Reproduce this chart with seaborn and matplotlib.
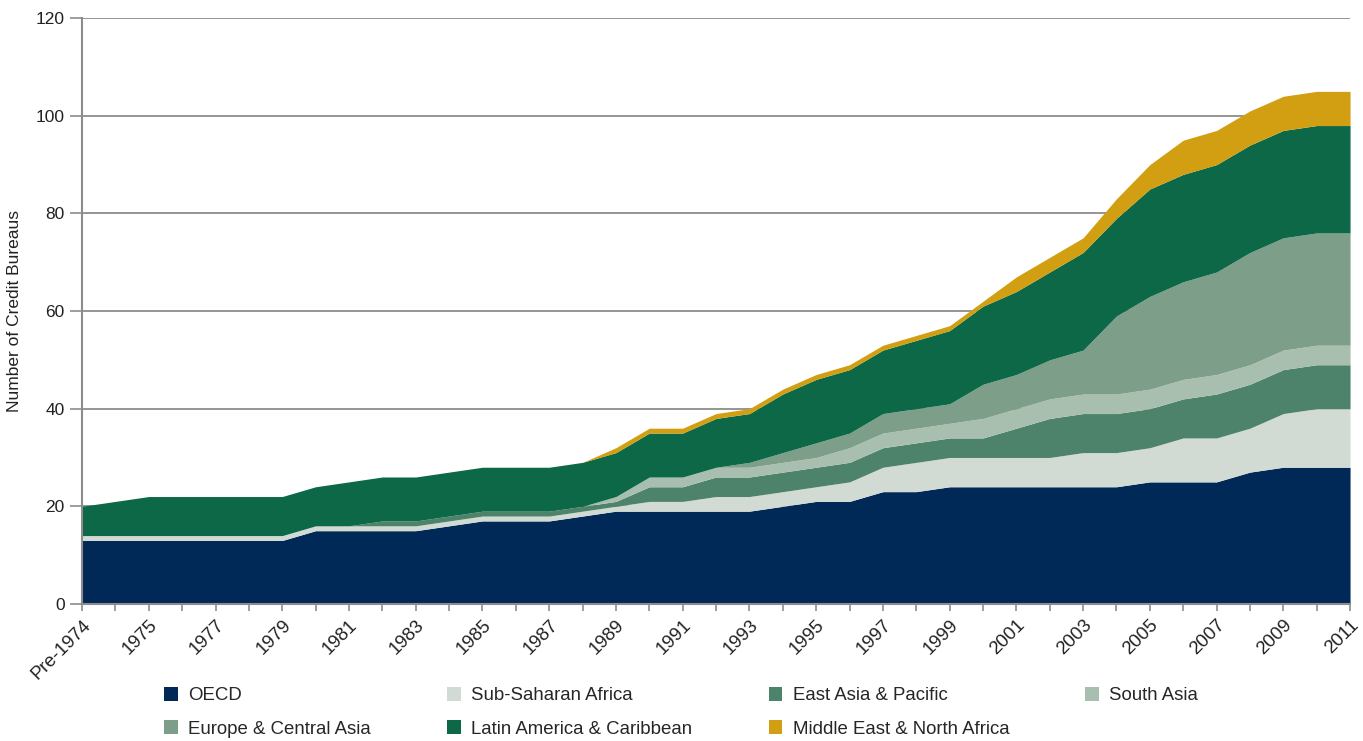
import matplotlib
matplotlib.use("Agg")
import matplotlib.pyplot as plt
import numpy as np
import pandas as pd
import seaborn as sns
from matplotlib.patches import Patch

# x categories: Pre-1974, 1974 ... 2011
years = ["Pre-1974"] + [str(y) for y in range(1974, 2012)]

oecd = [13, 13, 13, 13, 13, 13, 13, 15, 15, 15, 15, 16, 17, 17, 17, 18, 19, 19, 19, 19,
        19, 20, 21, 21, 23, 23, 24, 24, 24, 24, 24, 24, 25, 25, 25, 27, 28, 28, 28]
ssa = [1, 1, 1, 1, 1, 1, 1, 1, 1, 1, 1, 1, 1, 1, 1, 1, 1, 2, 2, 3,
       3, 3, 3, 4, 5, 6, 6, 6, 6, 6, 7, 7, 7, 9, 9, 9, 11, 12, 12]
eap = [0, 0, 0, 0, 0, 0, 0, 0, 0, 1, 1, 1, 1, 1, 1, 1, 1, 3, 3, 4,
       4, 4, 4, 4, 4, 4, 4, 4, 6, 8, 8, 8, 8, 8, 9, 9, 9, 9, 9]
sa = [0, 0, 0, 0, 0, 0, 0, 0, 0, 0, 0, 0, 0, 0, 0, 0, 1, 2, 2, 2,
      2, 2, 2, 3, 3, 3, 3, 4, 4, 4, 4, 4, 4, 4, 4, 4, 4, 4, 4]
eca = [0, 0, 0, 0, 0, 0, 0, 0, 0, 0, 0, 0, 0, 0, 0, 0, 0, 0, 0, 0,
       1, 2, 3, 3, 4, 4, 4, 7, 7, 8, 9, 16, 19, 20, 21, 23, 23, 23, 23]
lac = [6, 7, 8, 8, 8, 8, 8, 8, 9, 9, 9, 9, 9, 9, 9, 9, 9, 9, 9, 10,
       10, 12, 13, 13, 13, 14, 15, 16, 17, 18, 20, 20, 22, 22, 22, 22, 22, 22, 22]
mena = [0, 0, 0, 0, 0, 0, 0, 0, 0, 0, 0, 0, 0, 0, 0, 0, 1, 1, 1, 1,
        1, 1, 1, 1, 1, 1, 1, 1, 3, 3, 3, 4, 5, 7, 7, 7, 7, 7, 7]

regions = ["OECD", "Sub-Saharan Africa", "East Asia & Pacific", "South Asia",
           "Europe & Central Asia", "Latin America & Caribbean", "Middle East & North Africa"]
colors = ["#002957", "#D2DBD3", "#4E836B", "#A8BFB0", "#7D9E88", "#0C6846", "#D29F12"]

df = pd.DataFrame(dict(zip(regions, [oecd, ssa, eap, sa, eca, lac, mena])), index=years)

sns.set_theme(style="white")
plt.rcParams["font.family"] = ["Liberation Sans", "DejaVu Sans"]

fig = plt.figure(figsize=(13.63, 7.41), dpi=100)
ax = fig.add_axes([0.0602, 0.185, 0.9303, 0.7905])

x = np.arange(len(years))
ax.stackplot(x, [df[r].values for r in regions], colors=colors, linewidth=0)

ax.set_xlim(0, len(years) - 1)
ax.set_ylim(0, 120)
ax.set_yticks(range(0, 121, 20))
ax.yaxis.grid(True, color="#8c8c8c", linewidth=1.3)
ax.set_axisbelow(True)

ax.set_xticks(x)
ax.set_xticklabels([years[i] if i % 2 == 0 else "" for i in x],
                   rotation=45, ha="right", va="top", rotation_mode="anchor", fontsize=13.4)
ax.tick_params(axis="x", length=5, color="#8c8c8c", width=1.2, direction="out",
               pad=4, labelcolor="#222222", bottom=True)
ax.tick_params(axis="y", length=9, color="#8c8c8c", width=1.2, direction="out",
               labelsize=12.5, labelcolor="#222222", left=True)

for side in ["top", "right"]:
    ax.spines[side].set_visible(False)
for side in ["left", "bottom"]:
    ax.spines[side].set_color("#8c8c8c")
    ax.spines[side].set_linewidth(1.5)

ax.set_ylabel("Number of Credit Bureaus", fontsize=12.5, color="#222222", labelpad=10)

# legend laid out row by row (4 columns)
order = [0, 4, 1, 5, 2, 6, 3]
handles = [Patch(facecolor=colors[i], edgecolor="none", label=regions[i]) for i in order]
fig.legend(handles=handles, loc="upper left", bbox_to_anchor=(164 / 1363, 1 - 687 / 741),
           ncol=4, frameon=False, fontsize=13.4, handlelength=0.75, handleheight=0.75,
           handletextpad=0.54, columnspacing=4.1, labelspacing=0.86, borderpad=0,
           borderaxespad=0)

fig.savefig("out.png", dpi=100)
